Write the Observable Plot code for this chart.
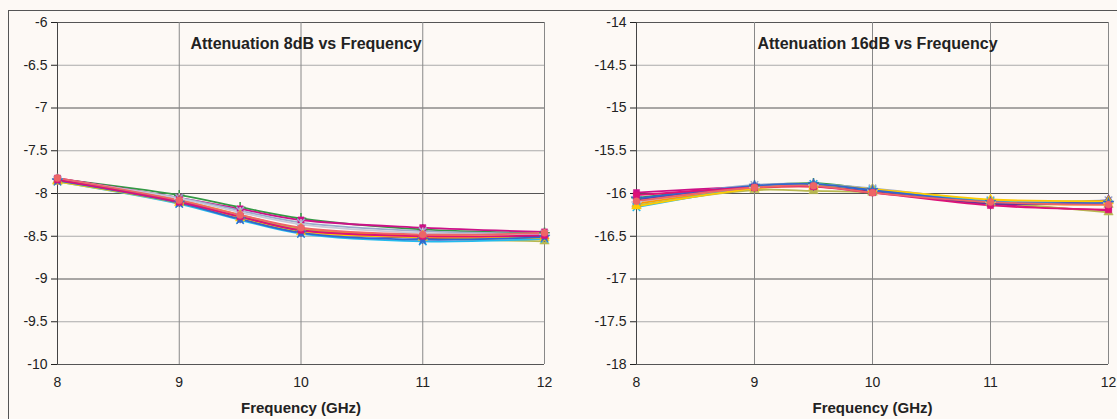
<!DOCTYPE html>
<html>
<head>
<meta charset="utf-8">
<script src="https://cdn.jsdelivr.net/npm/d3@7"></script>
<script src="https://cdn.jsdelivr.net/npm/@observablehq/plot@0.6"></script>
<style>
  html, body { margin: 0; padding: 0; background: #fdf9f5; }
  #wrap { position: relative; width: 1117px; height: 419px; overflow: hidden; background: #fdf9f5; }
  #left, #right { position: absolute; top: 0; }
  #left { left: 0; }
  #right { left: 560px; }
  .bt { position: absolute; left: 8px; top: 10px; width: 1109px; height: 0; border-top: 1px solid #555; }
  .bl { position: absolute; left: 8px; top: 10px; width: 0; height: 409px; border-left: 1px solid #555; }
</style>
</head>
<body>
<div id="wrap">
  <div class="bt"></div>
  <div class="bl"></div>
  <div id="left"></div>
  <div id="right"></div>
</div>
<script>
// ---- data ----
const freqs = [8, 9, 9.5, 10, 11, 12];
const xTicks = [8, 9, 10, 11, 12];
const yTicksLeft = [-10, -9.5, -9, -8.5, -8, -7.5, -7, -6.5, -6];
const yTicksRight = [-18, -17.5, -17, -16.5, -16, -15.5, -15, -14.5, -14];
const titleLeft = "Attenuation 8dB vs Frequency";
const titleRight = "Attenuation 16dB vs Frequency";
const xLabel = "Frequency (GHz)";

const seriesNames = ["S1","S2","S3","S4","S5","S6","S7","S8","S9","S10","S11","S12"];
const seriesColors = ["#339944","#cc1188","#99aacc","#c8c8d8","#ff9900","#b8b850","#663399","#22bbee","#ffcc00","#3366cc","#dd1177","#ee6666"];
const seriesSymbols = ["plus","square","times","plus","triangle","triangle","diamond","times","triangle","star","square","circle"];

const left8dB = [
  [-7.83, -8.02, -8.16, -8.29, -8.42, -8.46],
  [-7.82, -8.05, -8.18, -8.31, -8.40, -8.45],
  [-7.84, -8.05, -8.20, -8.34, -8.44, -8.47],
  [-7.83, -8.06, -8.22, -8.36, -8.46, -8.48],
  [-7.85, -8.08, -8.25, -8.41, -8.49, -8.50],
  [-7.85, -8.09, -8.26, -8.42, -8.52, -8.56],
  [-7.84, -8.09, -8.28, -8.44, -8.52, -8.50],
  [-7.86, -8.12, -8.31, -8.47, -8.56, -8.53],
  [-7.86, -8.11, -8.29, -8.45, -8.51, -8.52],
  [-7.85, -8.11, -8.30, -8.46, -8.54, -8.51],
  [-7.84, -8.10, -8.27, -8.43, -8.50, -8.49],
  [-7.82, -8.08, -8.25, -8.40, -8.48, -8.46]
];
const right16dB = [
  [-16.05, -15.91, -15.88, -15.95, -16.09, -16.10],
  [-15.99, -15.92, -15.91, -15.98, -16.12, -16.20],
  [-16.08, -15.90, -15.89, -15.94, -16.08, -16.08],
  [-16.10, -15.93, -15.90, -15.96, -16.10, -16.11],
  [-16.12, -15.94, -15.92, -15.98, -16.11, -16.13],
  [-16.14, -15.96, -15.97, -15.99, -16.10, -16.22],
  [-16.07, -15.92, -15.90, -15.97, -16.12, -16.08],
  [-16.16, -15.93, -15.89, -15.96, -16.09, -16.12],
  [-16.15, -15.94, -15.90, -15.95, -16.07, -16.09],
  [-16.06, -15.91, -15.89, -15.96, -16.10, -16.11],
  [-16.02, -15.93, -15.92, -15.99, -16.14, -16.19],
  [-16.09, -15.93, -15.91, -15.99, -16.10, -16.13]
];

function rowsFor(values) {
  return values.map((vals, i) => vals.map((v, j) => ({series: seriesNames[i], f: freqs[j], v})));
}

function chart(values, yTicks, title, width, marginLeft, marginRight) {
  const rows = rowsFor(values);
  const marks = [
    Plot.ruleY(yTicks.filter(d => !Number.isInteger(d)), {stroke: "#aaa", strokeWidth: 1}),
    Plot.ruleY(yTicks.filter(d => Number.isInteger(d)), {stroke: "#555", strokeWidth: 1}),
    Plot.ruleX(xTicks, {stroke: "#888", strokeWidth: 1}),
    Plot.ruleX([xTicks[0]], {stroke: "#444", strokeWidth: 1}),
    Plot.axisY({ticks: yTicks, tickSize: 6, tickPadding: 4, tickFormat: d => String(d), label: null, fill: "#222", fontSize: 14}),
    Plot.axisX({ticks: xTicks, tickSize: 0, tickPadding: 13, tickFormat: d => String(d), label: null, fill: "#222", fontSize: 14})
  ];
  rows.forEach((r, i) => {
    marks.push(Plot.line(r, {x: "f", y: "v", stroke: seriesColors[i], strokeWidth: 1.8, curve: "catmull-rom"}));
  });
  rows.forEach((r, i) => {
    const sym = seriesSymbols[i];
    const filled = sym === "square" || sym === "triangle" || sym === "circle" || sym === "diamond" || sym === "star";
    marks.push(Plot.dot(r, {
      x: "f", y: "v", symbol: sym, r: 3.5,
      fill: filled ? seriesColors[i] : "none",
      stroke: seriesColors[i], strokeWidth: filled ? 0.5 : 1.5
    }));
  });
  marks.push(Plot.text([title], {frameAnchor: "top", dy: 21, lineAnchor: "middle", dx: 5, text: d => d, fontWeight: "bold", fontSize: 16, fill: "#222"}));
  marks.push(Plot.text([xLabel], {frameAnchor: "bottom", dy: 44, lineAnchor: "middle", text: d => d, fontWeight: "bold", fontSize: 15, fill: "#222"}));
  return Plot.plot({
    width, height: 419,
    marginLeft, marginRight, marginTop: 22, marginBottom: 55,
    style: {background: "transparent", fontFamily: "'Liberation Sans', Arial, sans-serif", fontSize: "14px", color: "#222", overflow: "visible"},
    x: {domain: [8, 12], label: null},
    y: {domain: [yTicks[0], yTicks[yTicks.length - 1]], label: null},
    marks
  });
}

document.getElementById("left").appendChild(chart(left8dB, yTicksLeft, titleLeft, 560, 57, 16));
document.getElementById("right").appendChild(chart(right16dB, yTicksRight, titleRight, 557, 76, 9));
</script>
</body>
</html>
